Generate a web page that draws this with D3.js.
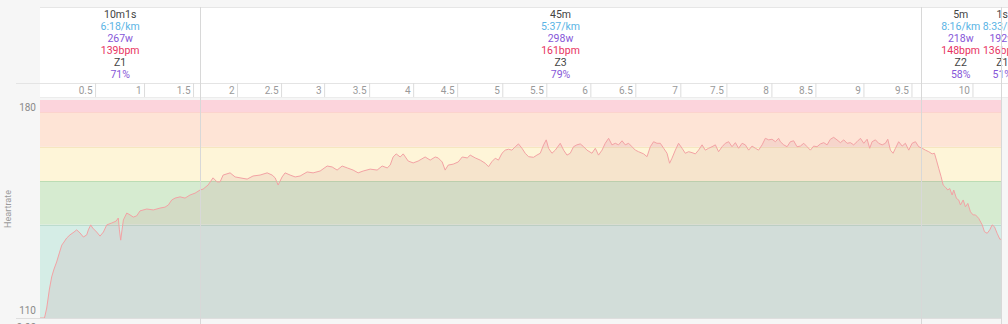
<!DOCTYPE html>
<html>
<head>
<meta charset="utf-8">
<script src="https://cdn.jsdelivr.net/npm/d3@7"></script>
<style>
  html, body { margin: 0; padding: 0; background: #f6f6f6; overflow: hidden; }
  svg { display: block; font-family: Roboto, "Noto Sans", sans-serif; }
</style>
</head>
<body>
<svg id="chart" width="1008" height="324"></svg>
<script>
// segments (minutes)
const segStart = [0, 10.017, 55.017, 60.017]
const segEnd = [10.017, 55.017, 60.017, 60.033]
const segDuration = ['10m1s', '45m', '5m', '1s']
const segPace = ['6:18/km', '5:37/km', '8:16/km', '8:33/km']
const segPower = ['267w', '298w', '218w', '192w']
const segHr = ['139bpm', '161bpm', '148bpm', '136bpm']
const segZone = ['Z1', 'Z3', 'Z2', 'Z1']
const segPct = ['71%', '79%', '58%', '51%']

// distance markers: km label and the elapsed minute it was reached
const kmTicks = ['0.5', '1', '1.5', '2', '2.5', '3', '3.5', '4', '4.5', '5', '5.5', '6', '6.5', '7', '7.5', '8', '8.5', '9', '9.5', '10']
const kmTickTime = [3.44, 6.5, 9.56, 12.31, 15.06, 17.75, 20.56, 23.31, 26.06, 28.88, 31.63, 34.38, 37.19, 40.0, 42.88, 45.69, 48.44, 51.44, 54.44, 58.25]

// heart rate zones (bpm)
const zoneLow = [110, 140, 154, 165, 176]
const zoneHigh = [140, 154, 165, 176, 180]

// heart rate samples
const hrTime = [0, 0.28, 0.42, 0.58, 0.73, 0.875, 1.04, 1.21, 1.36, 1.5, 1.67, 1.875, 2.125, 2.29, 2.5, 2.71, 2.92, 3.02, 3.17, 3.29, 3.54, 3.75, 3.96, 4.17, 4.48, 4.75, 4.89, 4.96, 5.04, 5.125, 5.21, 5.42, 5.625, 5.83, 6.04, 6.25, 6.67, 7.08, 7.5, 7.81, 8.02, 8.23, 8.44, 8.75, 9.06, 9.375, 9.69, 10.0,
  10.19, 10.5, 10.81, 11.06, 11.25, 11.44, 11.875, 12.19, 12.5, 12.94, 13.31, 13.75, 14.19, 14.5, 14.69, 14.875, 15.125, 15.31, 15.625, 15.94, 16.25, 16.69, 17.06, 17.5, 17.94, 18.25, 18.56, 18.875, 19.19, 19.56, 19.875, 20.19, 20.625, 21.06, 21.375, 21.69, 21.875, 22.06, 22.25, 22.5, 22.69, 23.0, 23.31, 23.625, 24.06, 24.375, 24.69, 24.875, 25.125, 25.31, 25.5, 25.81, 26.125, 26.375, 26.69, 26.875, 27.19,
  27.5, 27.81, 28.02, 28.23, 28.44, 28.64, 28.86, 29.06, 29.27, 29.48, 29.69, 29.89, 30.11, 30.31, 30.52, 30.83, 31.04, 31.25, 31.46, 31.625, 31.77, 31.98, 32.19, 32.5, 32.71, 32.92, 33.125, 33.33, 33.54, 33.75, 33.96, 34.17, 34.48, 34.69, 34.89, 35.11, 35.31, 35.52, 35.73, 35.94, 36.14, 36.36, 36.56, 36.77, 36.98, 37.19, 37.39, 37.71, 37.92, 38.125, 38.33, 38.54, 38.75, 38.96, 39.17, 39.33, 39.48, 39.69, 39.89, 40.11, 40.31, 40.52, 40.73, 40.94, 41.14, 41.36, 41.56, 41.77, 41.98, 42.19, 42.39, 42.61, 42.81, 43.02, 43.23, 43.44, 43.64, 43.86, 44.06, 44.27, 44.48, 44.69, 44.89, 45.11, 45.31, 45.52, 45.73, 45.94, 46.14,
  46.25, 46.46, 46.67, 46.875, 47.08, 47.29, 47.5, 47.71, 47.92, 48.125, 48.33, 48.54, 48.75, 48.96, 49.17, 49.375, 49.58, 49.79, 50.0, 50.21, 50.42, 50.625, 50.83, 51.04, 51.25, 51.46, 51.67, 51.83, 51.98, 52.19, 52.39, 52.61, 52.81, 52.96, 53.125, 53.29, 53.44, 53.64, 53.86, 54.06, 54.27, 54.48, 54.69, 54.89, 55.11, 55.31, 55.52, 55.73, 55.875, 56.0, 56.14, 56.29, 56.42, 56.56, 56.71, 56.83, 56.98, 57.08, 57.25, 57.39, 57.5, 57.67, 57.81, 57.96, 58.125, 58.29, 58.44, 58.64, 58.86, 59.0, 59.17, 59.33, 59.48, 59.625, 59.79, 59.96, 60.033]
const hrBpm = [110, 110, 113.2, 119.0, 123.2, 125.7, 128.0, 130.9, 133.4, 134.4, 135.7, 136.7, 137.6, 138.3, 137.3, 136.0, 136.7, 138.3, 139.9, 138.9, 137.6, 136.3, 137.6, 139.9, 140.5, 141.1, 142.1, 138.3, 135.0, 138.3, 141.5, 143.7, 143.1, 142.4, 142.8, 144.4, 145.0, 144.7, 145.3, 145.6, 146.3, 147.9, 148.5, 148.9, 148.5, 149.5, 150.1, 151.1,
  151.4, 152.7, 155.0, 153.7, 153.7, 155.9, 156.6, 155.3, 155.0, 154.6, 155.6, 155.9, 156.6, 155.9, 155.0, 152.7, 155.3, 156.6, 155.9, 155.3, 155.6, 156.9, 156.6, 157.2, 158.8, 158.5, 157.5, 158.8, 158.2, 157.5, 156.6, 157.2, 157.8, 157.5, 158.8, 158.2, 159.1, 161.7, 162.7, 161.7, 162.7, 160.4, 159.8, 160.4, 161.7, 160.7, 161.7, 161.4, 160.1, 157.5, 159.1, 159.4, 160.1, 161.7, 161.4, 162.3, 161.4,
  160.7, 159.7, 158.6, 160.2, 161.3, 160.7, 162.9, 163.9, 164.2, 163.9, 165.0, 165.9, 164.5, 162.9, 161.8, 161.6, 162.3, 162.9, 165.6, 167.2, 164.5, 162.9, 163.9, 166.1, 163.9, 162.3, 162.9, 165.0, 165.6, 165.9, 165.0, 163.9, 162.9, 164.5, 162.3, 163.9, 166.1, 167.7, 165.6, 166.1, 165.6, 166.9, 165.6, 166.1, 165.0, 163.9, 163.4, 162.7, 161.8, 165.0, 166.6, 166.1, 166.1, 164.5, 162.9, 159.7, 161.3, 163.9, 166.1, 164.5, 162.9, 163.4, 163.1, 162.7, 163.9, 165.6, 163.9, 164.5, 165.0, 165.6, 163.4, 165.0, 166.1, 166.6, 165.0, 166.3, 164.5, 166.1, 165.6, 163.9, 165.2, 164.5, 163.9, 165.6, 167.7, 167.2, 167.4, 166.6, 167.7,
  166.6, 165.6, 165.0, 166.6, 166.9, 165.0, 165.2, 166.1, 165.0, 163.9, 165.2, 165.0, 165.9, 166.3, 165.6, 167.4, 168.0, 167.2, 166.3, 167.2, 166.1, 166.3, 165.6, 166.6, 167.7, 166.1, 167.4, 164.5, 166.6, 167.2, 166.1, 165.6, 166.1, 167.4, 163.9, 162.9, 164.5, 166.6, 165.2, 166.1, 163.9, 166.1, 166.6, 165.0, 164.5, 163.9, 163.4, 162.7, 162.9, 160.7, 158.1, 155.4, 152.7, 152.0, 151.1, 151.6, 149.5, 151.1, 148.4, 147.9, 146.3, 147.9, 145.7, 146.8, 144.1, 143.1, 143.1, 142.0, 139.9, 137.7, 137.2, 138.3, 139.9, 139.3, 137.2, 135.3, 135.3]

const hrData = hrTime.map((t, i) => ({ t: t, bpm: hrBpm[i] }))

const ZONE_FILL = ['#d5ede6', '#d6ebd0', '#fef5d8', '#fee4d6', '#fcd4dc']
const ZONE_EDGE = ['#bcdccf', '#bcdcb4', '#f6e6c0', '#fbd2c0', '#f5b9c4']
const TEXT_COLORS = ['#444', '#5ab4e5', '#8656d8', '#e8335f', '#444', '#8656d8']

const HEADER_TOP = 7
const HEADER_BOTTOM = 83
const TICKROW_BOTTOM = 97
const PLOT_TOP = 100
const PLOT_BOTTOM = 318

const svg = d3.select('#chart')

const xScale = d3.scaleLinear().domain([0, segEnd[segEnd.length - 1]]).range([40, 1001])
const yScale = d3.scaleLinear().domain([110, 180]).range([PLOT_BOTTOM, PLOT_TOP])

/**
 * Draws the white header with one card per segment and its summary texts.
 */
function drawHeader () {
  const g = svg.append('g').attr('class', 'header')

  g.append('rect')
    .attr('x', xScale(0)).attr('y', HEADER_TOP)
    .attr('width', 1008 - xScale(0)).attr('height', HEADER_BOTTOM - HEADER_TOP)
    .attr('fill', '#fff')
  g.append('line')
    .attr('x1', xScale(0)).attr('x2', 1008)
    .attr('y1', HEADER_TOP + 0.5).attr('y2', HEADER_TOP + 0.5)
    .attr('stroke', '#e6e6e6')

  const rows = [segDuration, segPace, segPower, segHr, segZone, segPct]
  const ROW_START = 14
  const ROW_STEP = 12

  segStart.forEach((s, i) => {
    // the last card is too thin, its texts sit just after its start
    const cx = i === 3 ? xScale(s) + 1.5 : (xScale(s) + xScale(segEnd[i])) / 2
    rows.forEach((row, r) => {
      g.append('text')
        .attr('x', cx)
        .attr('y', ROW_START + r * ROW_STEP)
        .attr('dy', '0.35em')
        .attr('text-anchor', 'middle')
        .attr('font-size', 10.5)
        .attr('fill', TEXT_COLORS[r])
        .text(row[i])
    })
  })

  // small dark marker at the end of the last card
  g.append('line')
    .attr('x1', Math.round(xScale(segEnd[3])) + 0.5).attr('x2', Math.round(xScale(segEnd[3])) + 0.5)
    .attr('y1', 10).attr('y2', 27)
    .attr('stroke', '#222')
}

/**
 * Draws the row of distance markers between header and plot.
 */
function drawDistanceRow () {
  const g = svg.append('g').attr('class', 'km-row')
  const TICK_HEIGHT = TICKROW_BOTTOM - HEADER_BOTTOM

  g.append('rect')
    .attr('x', xScale(0)).attr('y', HEADER_BOTTOM)
    .attr('width', 1008 - xScale(0)).attr('height', TICK_HEIGHT)
    .attr('fill', '#fff')

  g.append('line')
    .attr('x1', 16).attr('x2', 1008)
    .attr('y1', HEADER_BOTTOM + 0.5).attr('y2', HEADER_BOTTOM + 0.5)
    .attr('stroke', '#e4e4e4')
  g.append('line')
    .attr('x1', xScale(0)).attr('x2', 1008)
    .attr('y1', TICKROW_BOTTOM + 0.5).attr('y2', TICKROW_BOTTOM + 0.5)
    .attr('stroke', '#ececec')

  const axis = d3.axisBottom(xScale)
    .tickValues(kmTickTime)
    .tickFormat((d, i) => kmTicks[i])
    .tickSize(TICK_HEIGHT)

  const ax = g.append('g')
    .attr('transform', `translate(0, ${HEADER_BOTTOM})`)
    .call(axis)
  ax.select('.domain').remove()
  ax.selectAll('.tick line').attr('stroke', '#dcdcdc')
  ax.selectAll('.tick text')
    .attr('text-anchor', 'end')
    .attr('x', -3)
    .attr('y', 7)
    .attr('dy', '0.35em')
    .attr('fill', '#9a9a9a')
    .attr('font-size', 10)
    .attr('font-family', 'Roboto, sans-serif')
}

/**
 * Draws the heart rate zone bands, the filled area and the heart rate line.
 */
function drawPlot () {
  const g = svg.append('g').attr('class', 'plot')
  const x0 = xScale(0)
  const x1 = xScale(segEnd[segEnd.length - 1])

  zoneLow.forEach((low, i) => {
    g.append('rect')
      .attr('x', x0).attr('y', yScale(zoneHigh[i]))
      .attr('width', x1 - x0)
      .attr('height', yScale(low) - yScale(zoneHigh[i]))
      .attr('fill', ZONE_FILL[i])
    if (i < zoneLow.length - 1) {
      g.append('line')
        .attr('x1', x0).attr('x2', x1)
        .attr('y1', Math.round(yScale(zoneHigh[i])) + 0.5)
        .attr('y2', Math.round(yScale(zoneHigh[i])) + 0.5)
        .attr('stroke', ZONE_EDGE[i])
    }
  })

  g.append('path')
    .datum(hrData)
    .attr('fill', 'rgba(190, 110, 120, 0.12)')
    .attr('d', d3.area()
      .x(d => xScale(d.t))
      .y0(yScale(110))
      .y1(d => yScale(d.bpm)))

  g.append('path')
    .datum(hrData)
    .attr('fill', 'none')
    .attr('stroke', '#f3a2a4')
    .attr('stroke-width', 1)
    .attr('stroke-linejoin', 'round')
    .attr('d', d3.line()
      .x(d => xScale(d.t))
      .y(d => yScale(d.bpm)))

  g.append('line')
    .attr('x1', 16).attr('x2', x1)
    .attr('y1', PLOT_BOTTOM + 0.5).attr('y2', PLOT_BOTTOM + 0.5)
    .attr('stroke', '#dedede')
}

/**
 * Vertical separators at the segment boundaries, across the whole height.
 */
function drawSegmentLines () {
  svg.append('g').attr('class', 'seg-lines')
    .selectAll('line')
    .data(segEnd.slice(0, 3))
    .join('line')
    .attr('x1', d => Math.round(xScale(d)) + 0.5)
    .attr('x2', d => Math.round(xScale(d)) + 0.5)
    .attr('y1', HEADER_TOP)
    .attr('y2', 324)
    .attr('stroke', '#d8d8d8')
}

/**
 * Y axis with only min and max, and the rotated axis title.
 */
function drawYAxis () {
  const g = svg.append('g').attr('class', 'y axis')
    .attr('transform', 'translate(36, 0)')
    .call(d3.axisLeft(yScale).tickValues([110, 180]).tickSize(0))
  g.select('.domain').remove()
  g.selectAll('.tick text')
    .attr('x', 0)
    .attr('fill', '#8a8a8a')
    .attr('font-size', 10)
    .attr('font-family', 'Roboto, sans-serif')
    .attr('dy', d => d === 180 ? '1.05em' : '-0.45em')

  svg.append('text')
    .attr('transform', `translate(8, ${(PLOT_TOP + PLOT_BOTTOM) / 2}) rotate(-90)`)
    .attr('text-anchor', 'middle')
    .attr('dy', '0.35em')
    .attr('font-size', 9)
    .attr('fill', '#9a9a9a')
    .text('Heartrate')

  // label of the next chart, cut by the bottom edge
  svg.append('text')
    .attr('x', 36).attr('y', 331)
    .attr('text-anchor', 'end')
    .attr('font-size', 10)
    .attr('fill', '#8a8a8a')
    .text('0.00')
}

drawHeader()
drawDistanceRow()
drawPlot()
drawSegmentLines()
drawYAxis()
</script>
</body>
</html>
